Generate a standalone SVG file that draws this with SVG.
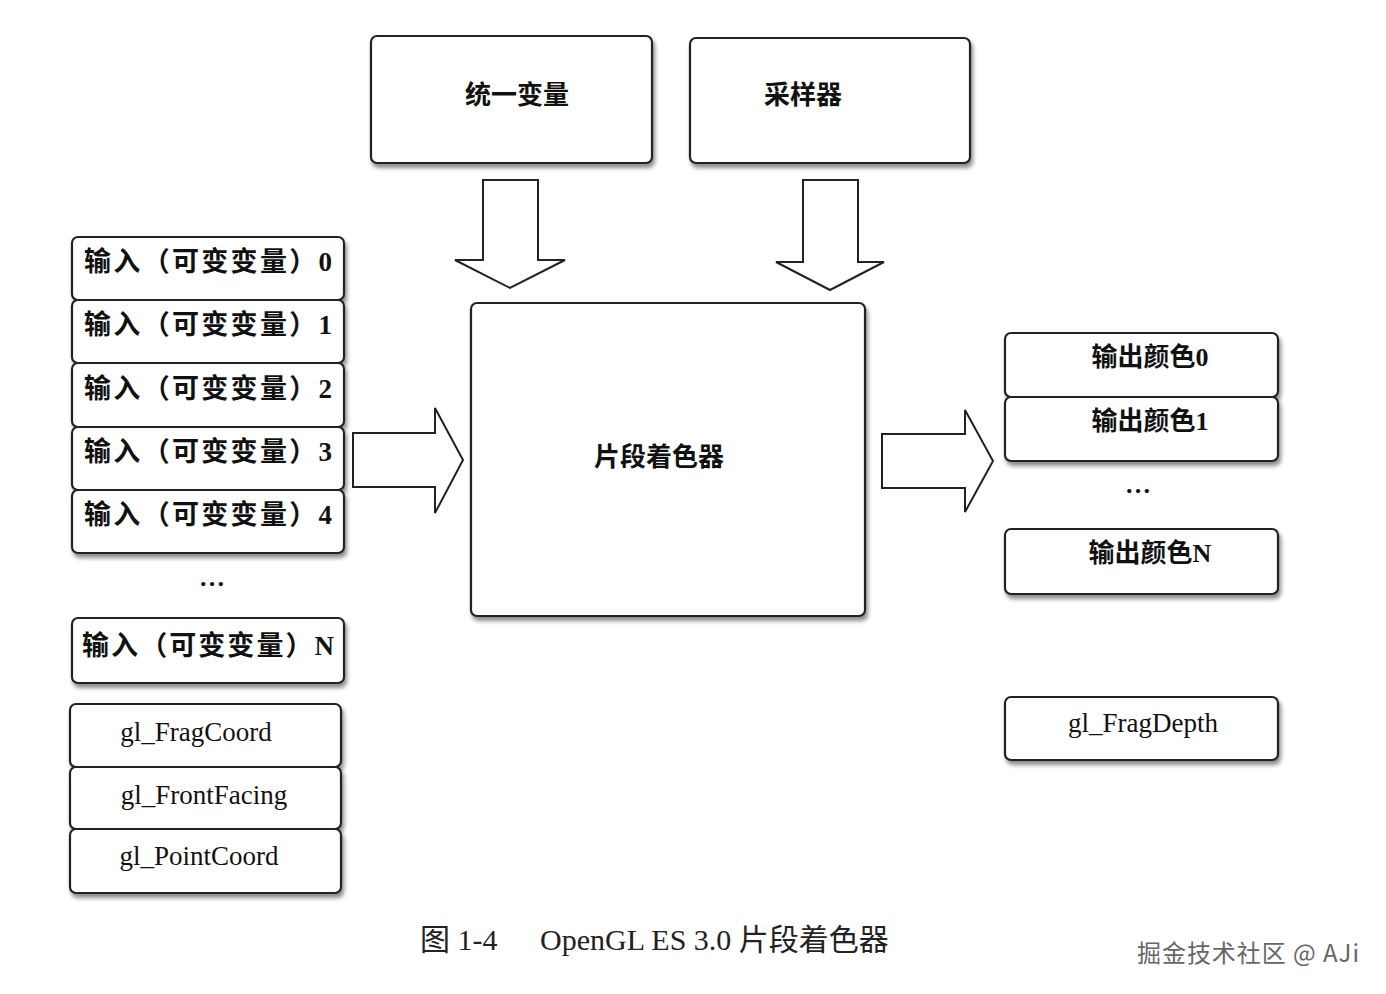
<svg xmlns="http://www.w3.org/2000/svg" width="1386" height="994" viewBox="0 0 1386 994">
<defs>
<filter id="sh" x="-10%" y="-10%" width="130%" height="140%"><feDropShadow dx="2" dy="4" stdDeviation="2" flood-color="#000" flood-opacity="0.45"/></filter>
</defs>
<style>
.b{fill:#fff;stroke:#222;stroke-width:2.2;filter:url(#sh)}
.t{font-family:"Liberation Serif","Noto Sans CJK SC",serif;font-size:26px;font-weight:600;fill:#111;text-anchor:middle;dominant-baseline:central}
.g{font-weight:normal;font-size:27px}
.i{font-size:27px}
.a{fill:#fff;stroke:#222;stroke-width:2}
</style>
<rect width="1386" height="994" fill="#fff"/>
<g id="uniform"><rect class="b" x="371" y="36" width="281" height="127" rx="6"/><text class="t" x="517" y="95">统一变量</text></g>
<g id="sampler"><rect class="b" x="690" y="38" width="280" height="125" rx="6"/><text class="t" x="803" y="95">采样器</text></g>
<g id="shader"><rect class="b" x="471" y="303" width="394" height="313" rx="6"/><text class="t" x="659" y="457">片段着色器</text></g>
<g id="in0"><rect class="b" x="72" y="237" width="272" height="63" rx="6"/><text class="t i" x="208" y="262" textLength="248">输入（可变变量）0</text></g>
<g id="in1"><rect class="b" x="72" y="300" width="272" height="63" rx="6"/><text class="t i" x="208" y="325" textLength="248">输入（可变变量）1</text></g>
<g id="in2"><rect class="b" x="72" y="363" width="272" height="64" rx="6"/><text class="t i" x="208" y="389" textLength="248">输入（可变变量）2</text></g>
<g id="in3"><rect class="b" x="72" y="427" width="272" height="63" rx="6"/><text class="t i" x="208" y="452" textLength="248">输入（可变变量）3</text></g>
<g id="in4"><rect class="b" x="72" y="490" width="272" height="63" rx="6"/><text class="t i" x="208" y="515" textLength="248">输入（可变变量）4</text></g>
<text class="t" x="212" y="577">…</text>
<g id="inN"><rect class="b" x="72" y="618" width="272" height="65" rx="6"/><text class="t i" x="208" y="646" textLength="252">输入（可变变量）N</text></g>
<g id="fragcoord"><rect class="b" x="70" y="704" width="271" height="63" rx="6"/><text class="t g" x="196" y="732">gl_FragCoord</text></g>
<g id="frontfacing"><rect class="b" x="70" y="767" width="271" height="62" rx="6"/><text class="t g" x="204" y="795">gl_FrontFacing</text></g>
<g id="pointcoord"><rect class="b" x="70" y="829" width="271" height="64" rx="6"/><text class="t g" x="199" y="856">gl_PointCoord</text></g>
<g id="out0"><rect class="b" x="1005" y="333" width="273" height="64" rx="6"/><text class="t" x="1150" y="357">输出颜色0</text></g>
<g id="out1"><rect class="b" x="1005" y="397" width="273" height="64" rx="6"/><text class="t" x="1150" y="421">输出颜色1</text></g>
<text class="t" x="1138" y="484">…</text>
<g id="outN"><rect class="b" x="1005" y="529" width="273" height="65" rx="6"/><text class="t" x="1150" y="553">输出颜色N</text></g>
<g id="fragdepth"><rect class="b" x="1005" y="697" width="273" height="63" rx="6"/><text class="t g" x="1143" y="723">gl_FragDepth</text></g>
<g id="connectors">
<polygon class="a" points="483,180 538,180 538,260 565,260 510,288 455,260 483,260"/>
<polygon class="a" points="803,180 858,180 858,262 884,262 830,290 776,262 803,262"/>
<polygon class="a" points="353,433 435,433 435,408 463,460 435,513 435,487 353,487"/>
<polygon class="a" points="882,434 965,434 965,410 993,461 965,512 965,488 882,488"/>
</g>
<text font-family="Liberation Serif,'Noto Sans CJK SC',serif" font-size="30" fill="#222" x="420" y="950">图 1-4<tspan x="540">OpenGL ES 3.0 片段着色器</tspan></text>
<text font-family="'Noto Sans CJK SC',sans-serif" font-size="24" fill="#666" x="1137" y="962" textLength="222">掘金技术社区 @ AJi</text>
</svg>
